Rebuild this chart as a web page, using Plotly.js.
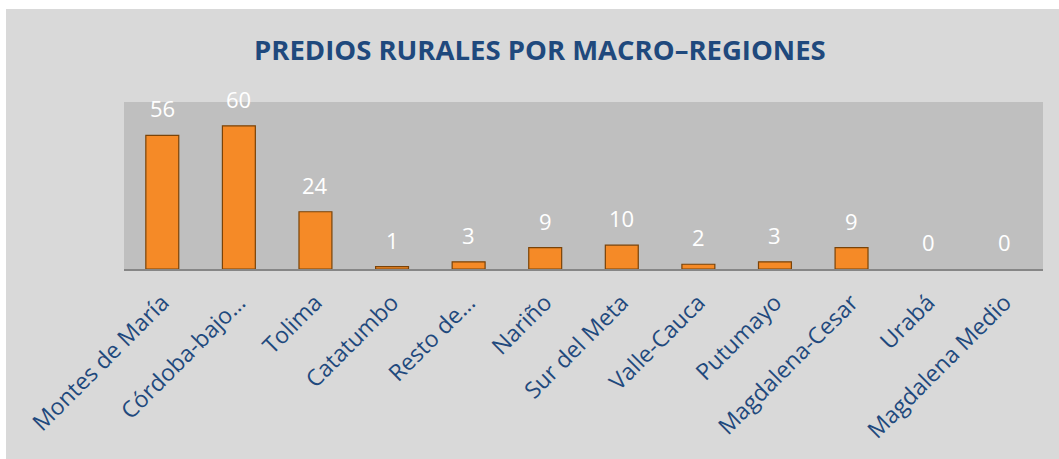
<!DOCTYPE html>
<html>
<head>
<meta charset="utf-8">
<script src="https://cdn.plot.ly/plotly-3.0.1.min.js"></script>
<style>
  html, body { margin: 0; padding: 0; background: #ffffff; }
  #chart { position: absolute; left: 6px; top: 9px; width: 1053px; height: 450px; }
</style>
</head>
<body>
<div id="chart"></div>
<script>
var categories = ["Montes de María", "Córdoba-bajo…", "Tolima", "Catatumbo", "Resto de…", "Nariño",
                  "Sur del Meta", "Valle-Cauca", "Putumayo", "Magdalena-Cesar", "Urabá", "Magdalena Medio"];
var values = [56, 60, 24, 1, 3, 9, 10, 2, 3, 9, 0, 0];
var chartTitle = "PREDIOS RURALES POR MACRO–REGIONES";

var trace = {
  type: "bar",
  x: categories,
  y: values,
  width: 0.43,
  marker: {
    color: "#f58a27",
    line: { color: "#7a4308", width: values.map(function (v) { return v > 0 ? 1.2 : 0; }) }
  },
  hoverinfo: "x+y"
};

var annotations = categories.map(function (c, i) {
  return {
    x: c, y: values[i], xref: "x", yref: "y",
    text: String(values[i]), showarrow: false,
    yanchor: "bottom", yshift: 10,
    font: { family: "Open Sans, sans-serif", size: 22, color: "#ffffff" }
  };
});

var layout = {
  width: 1053, height: 450,
  margin: { l: 118, r: 16, t: 93, b: 190 },
  paper_bgcolor: "#d9d9d9",
  plot_bgcolor: "#bfbfbf",
  title: {
    text: "<b>" + chartTitle + "</b>",
    xref: "container", yref: "container",
    x: 0.507, y: 0.909, xanchor: "center", yanchor: "middle",
    font: { family: "Open Sans, sans-serif", size: 27.5, color: "#1f497d" }
  },
  xaxis: {
    tickangle: -45,
    tickfont: { family: "Open Sans, sans-serif", size: 23, color: "#1f497d" },
    showline: true, linecolor: "#868686", linewidth: 2,
    ticks: "outside", ticklen: 9, tickcolor: "rgba(0,0,0,0)",
    showgrid: false, zeroline: false, fixedrange: true
  },
  yaxis: {
    range: [0, 70], visible: false, showgrid: false, zeroline: false, fixedrange: true
  },
  annotations: annotations,
  showlegend: false
};

Plotly.newPlot("chart", [trace], layout, { displayModeBar: false, staticPlot: true });
</script>
</body>
</html>
